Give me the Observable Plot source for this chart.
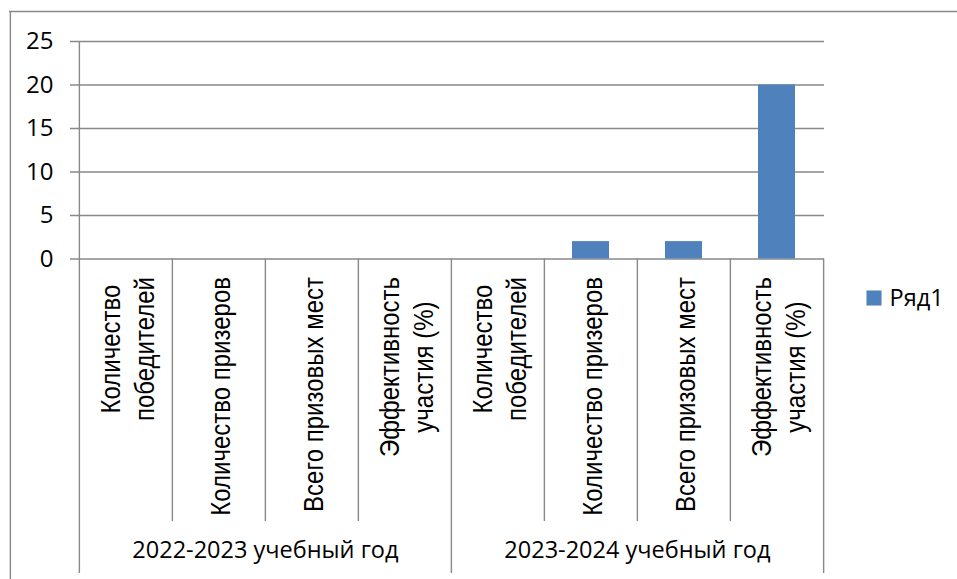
<!DOCTYPE html>
<html><head><meta charset="utf-8">
<script src="https://cdn.jsdelivr.net/npm/d3@7"></script>
<script src="https://cdn.jsdelivr.net/npm/@observablehq/plot@0.6"></script>
<style>body{margin:0;background:#fff} #chart{width:957px;height:579px}</style>
</head><body><div id="chart"></div>
<script>
const groups = ["2022-2023 учебный год", "2023-2024 учебный год"];
const metrics = ["Количество победителей", "Количество призеров", "Всего призовых мест", "Эффективность участия (%)"];
const metricLabels = ["Количество\nпобедителей", "Количество призеров", "Всего призовых мест", "Эффективность\nучастия (%)"];
const values2022 = [0, 0, 0, 0];
const values2023 = [0, 2, 2, 20];
const yTicks = [0, 5, 10, 15, 20, 25];
const seriesName = "Ряд1";

const groupValues = [values2022, values2023];
const keys = groups.flatMap((g, gi) => metrics.map((m, mi) => `${gi}|${mi}`));
const data = groups.flatMap((g, gi) => metrics.map((m, mi) => ({key: `${gi}|${mi}`, group: g, metric: m, value: groupValues[gi][mi]})));
const labelOf = k => metricLabels[+k.split("|")[1]];

const W = 957, H = 579, ML = 78, MR = 133, MT = 41, MB = 320.5;
const step = (W - ML - MR) / keys.length;
const axisBottom = H - MB;
const gray = "#898989";
const sw = 1.4;
const calibri = "'Open Sans', sans-serif";
const barColor = "#4F81BD";

const starts = keys.filter(k => k.endsWith("|0"));
const inner = keys.filter(k => !k.endsWith("|0"));
const last = keys[keys.length - 1];
const legendDy = 297.5 - (MT + axisBottom) / 2;

const chart = Plot.plot({
  width: W, height: H, marginLeft: ML, marginRight: MR, marginTop: MT, marginBottom: MB,
  style: {background: "#fff", overflow: "visible"},
  x: {type: "band", domain: keys, paddingInner: 0.6, paddingOuter: 0.3},
  y: {domain: [0, 25]},
  marks: [
    Plot.ruleY([25], {dy: -(MT - 11), insetLeft: -(ML - 9), insetRight: -MR, stroke: gray, strokeWidth: sw}),
    Plot.ruleX([keys[0]], {dx: -step / 2 - (ML - 9), insetTop: -(MT - 11), insetBottom: -MB, stroke: gray, strokeWidth: sw}),
    Plot.ruleY(yTicks, {stroke: gray, strokeWidth: sw, insetLeft: -8}),
    Plot.axisY({ticks: yTicks, tickSize: 0, tickPadding: 25, fontSize: 24, fontFamily: calibri, fill: "#000", label: null}),
    Plot.ruleX([keys[0]], {dx: -step / 2, insetBottom: -(573 - axisBottom), stroke: gray, strokeWidth: sw}),
    Plot.ruleX(starts.slice(1), {dx: -step / 2, insetTop: axisBottom - MT, insetBottom: -(573 - axisBottom), stroke: gray, strokeWidth: sw}),
    Plot.ruleX([last], {dx: step / 2, insetTop: axisBottom - MT, insetBottom: -(573 - axisBottom), stroke: gray, strokeWidth: sw}),
    Plot.ruleX(inner, {dx: -step / 2, insetTop: axisBottom - MT, insetBottom: -(521 - axisBottom), stroke: gray, strokeWidth: sw}),
    Plot.barY(data, {x: "key", y: "value", fill: barColor}),
    Plot.axisX({tickSize: 0, tickPadding: 18, tickFormat: labelOf, rotate: -90, textAnchor: "end", lineAnchor: "middle",
      fontSize: 24, fontFamily: "'Liberation Sans', Arial, sans-serif", fill: "#000", label: null, lineHeight: 1.25}),
    Plot.text(groups, {x: (g, i) => `${i}|2`, dx: -step / 2, frameAnchor: "bottom", dy: 557 - axisBottom,
      fontSize: 23.5, fontFamily: calibri, fill: "#000"}),
    Plot.dot([seriesName], {frameAnchor: "right", dx: 49.5, dy: legendDy, symbol: "square", r: 8.5, fill: barColor}),
    Plot.text([seriesName], {frameAnchor: "right", textAnchor: "start", dx: 65, dy: legendDy, fontSize: 23.5, fontFamily: calibri, fill: "#000"})
  ]
});
document.getElementById("chart").append(chart);
chart.querySelectorAll('[aria-label^="x-axis tick label"] text').forEach(t => {
  const spans = [...t.querySelectorAll("tspan")];
  if (spans.length > 1) {
    const lens = spans.map(s => s.getComputedTextLength());
    const max = Math.max(...lens);
    spans.forEach((s, i) => s.setAttribute("x", -(max - lens[i]) / 2));
  }
  t.setAttribute("transform", (t.getAttribute("transform") || "") + " scale(1,1.15)");
});
</script>
</body></html>
